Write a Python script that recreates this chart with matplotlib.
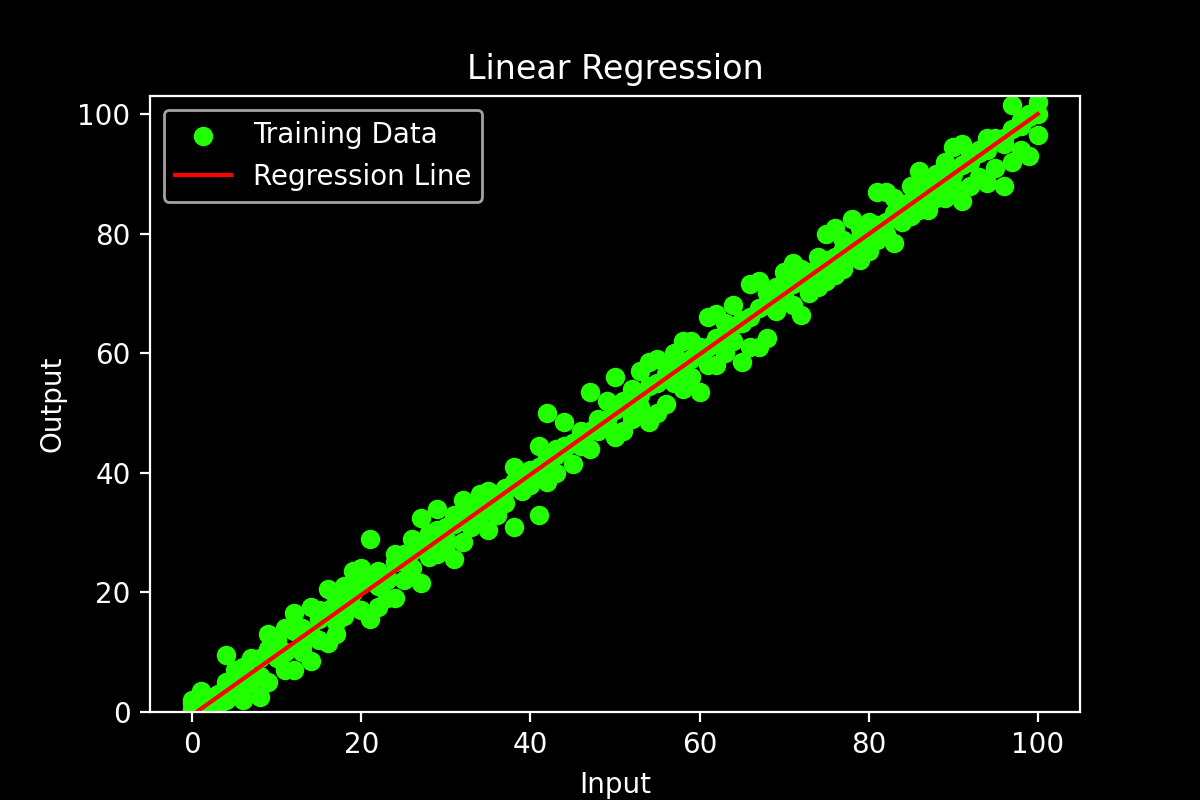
import numpy as np
import matplotlib
matplotlib.use("Agg")
import matplotlib.pyplot as plt

x_vals = list(range(101))

# three readings per input value
y_high = [2, 3.5, 1, 3, 9.5, 7, 4, 9, 6, 13, 12, 14, 16.5, 11, 17.5, 17, 20.5, 13, 21, 23.5,
          24, 29, 21, 22, 26.5, 25, 29, 32.5, 30, 34, 29, 33, 35.5, 34, 36.5, 37, 34, 37.5, 41, 40,
          38, 44.5, 50, 44, 48.5, 45, 47, 53.5, 49, 52, 56, 52, 54, 57, 58.5, 59, 58, 60, 62, 62,
          61, 66, 66.5, 65, 68, 65, 71.5, 72, 70, 71, 73.5, 75, 74, 72, 76, 80, 81, 79, 82.5, 81,
          82, 87, 87, 86, 85, 88, 90.5, 89, 90, 92, 94.5, 95, 93, 94, 96, 96, 95, 101.5, 99, 100, 102]
y_low = [0.5, 1, 0, 1, 2, 4, 2, 5, 2.5, 5, 9, 7, 7, 10, 8.5, 12, 11.5, 15, 16, 17.5,
         17, 15.5, 17.5, 19, 19, 22, 24, 21.5, 26, 26.5, 28, 25.5, 28.5, 31, 33, 30.5, 33, 35, 31, 37,
         39, 33, 38.5, 40, 44, 41.5, 44.5, 44, 47, 48, 46, 47, 49, 51, 48.5, 50, 51.5, 55, 54, 56,
         53.5, 58, 58, 60, 62, 58.5, 61, 61, 62.5, 67, 69, 68, 66.3, 70, 71, 72, 73, 74, 76, 75.5,
         77, 79, 80, 78.5, 82, 83, 84, 84, 86, 86, 88, 85.5, 88, 89.5, 88.5, 91, 88, 92, 94, 93, 96.5]
y_mid = [1.5, 2, 2.5, 1.5, 5, 6, 7.5, 6, 9, 10.5, 11, 10, 13.5, 14, 13, 15.5, 17, 18.5, 19, 20,
         21.5, 22, 23.5, 22.5, 25, 26.5, 27, 28.5, 29, 30.5, 31, 31.5, 32, 33.5, 35, 34.5, 36.5, 37, 38.5, 38,
         40.5, 41, 42.5, 43, 44.5, 45, 46.5, 47, 48.5, 49, 50.5, 51, 52.5, 53, 54.5, 55, 56.5, 57, 58.5, 59,
         60.5, 61, 62.5, 63, 64.5, 65.5, 66, 67.5, 68, 69.5, 70, 71.5, 72, 73.5, 74, 75.5, 76, 77.5, 78, 79.5,
         80, 81.5, 82, 83.5, 84, 85.5, 86, 87.5, 88, 89.5, 90, 91.5, 92, 93.5, 94, 95.5, 96, 97.5, 98, 99.5, 100]

line_x = [0, 100]
line_y = [-0.5, 100]

plt.style.use("dark_background")
fig, ax = plt.subplots(figsize=(6, 4), dpi=200)
xs = x_vals * 3
ys = y_high + y_low + y_mid
ax.scatter(xs, ys, color="#22ff00", label="Training Data")
ax.plot(line_x, line_y, color="red", label="Regression Line")
ax.set_ylim(0, 103)
ax.set_xlim(-5, 105)
ax.set_title("Linear Regression")
ax.set_xlabel("Input")
ax.set_ylabel("Output")
ax.legend(loc="upper left")
fig.savefig("out.png")
